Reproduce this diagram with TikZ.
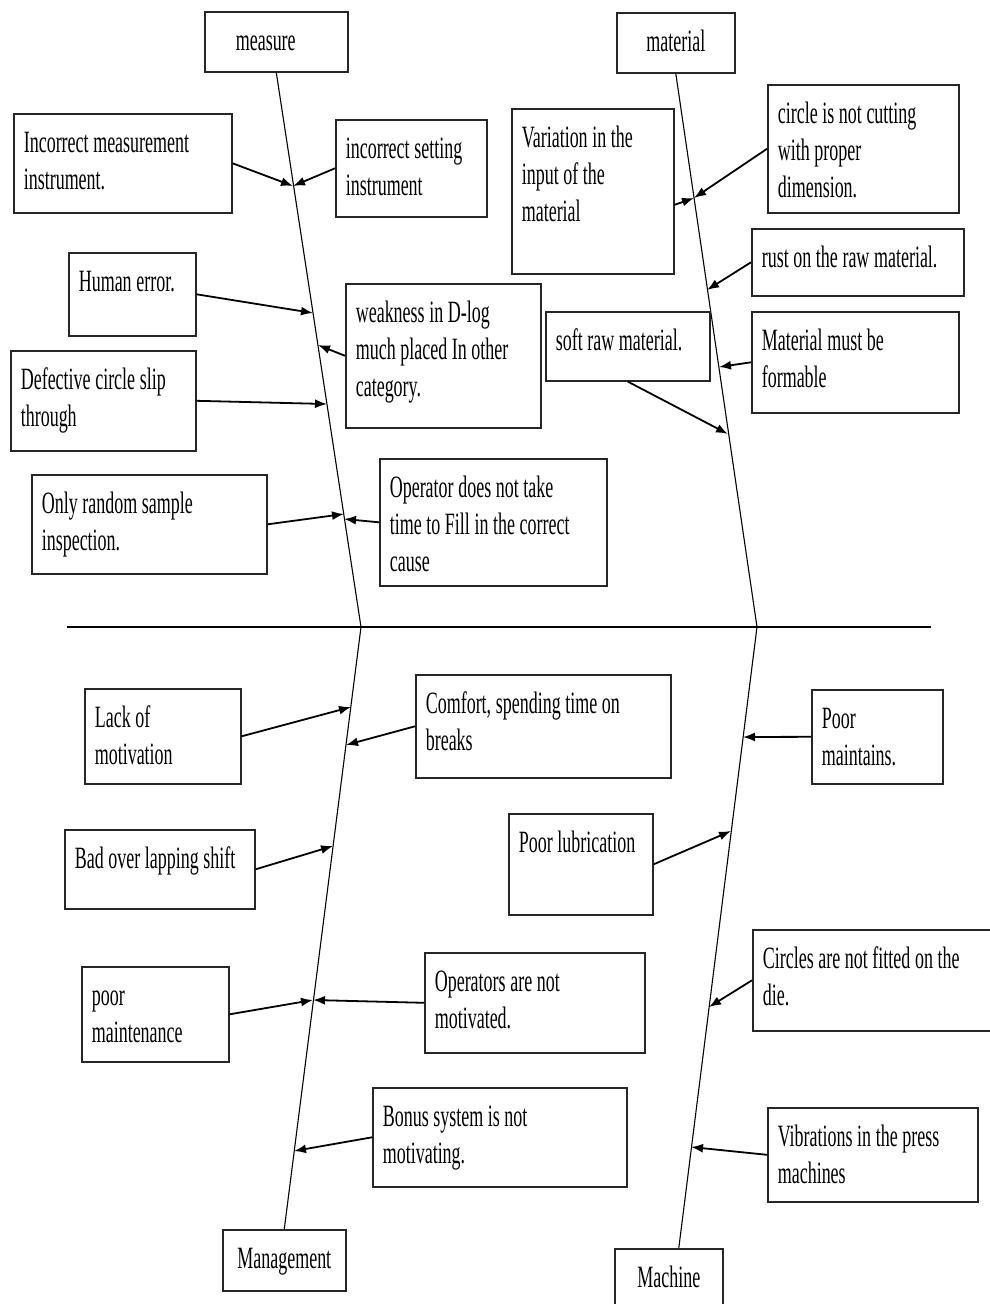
\documentclass[tikz,border=0pt]{standalone}
\usepackage{fontspec}
\setmainfont{Liberation Serif}[FakeStretch=0.58]
\usetikzlibrary{arrows.meta}
\hyphenpenalty=10000

\begin{document}
\begin{tikzpicture}[x=1pt,y=-1pt,
  cause/.style 2 args={draw=black!85, line width=1.6pt, anchor=north west, align=left,
    inner xsep=10pt, inner ysep=0pt, text height=39pt, text width=#1, text depth=#2,
    font=\fontsize{31}{37}\selectfont,
    execute at begin node={\spaceskip=4.6pt plus 2pt minus 1pt\relax}},
  bone/.style={line width=1.1pt},
  hit/.style={line width=1.8pt, -{Latex[length=12pt,width=9pt]}}]
\useasboundingbox (0,0) rectangle (989,1304);

\node[cause={81pt}{21pt}, inner xsep=31pt] (measure) at (204,11) {measure};
\node[cause={98pt}{21pt}, align=center] (material) at (616,12) {material};
\node[cause={103pt}{22pt}, align=center] (mgmt) at (222,1229) {Management};
\node[cause={88pt}{21pt}, align=center] (machine) at (614,1248) {Machine};

\coordinate (hubL) at (361,627);
\coordinate (hubR) at (757,627);
\coordinate (hl) at (67,627);
\coordinate (hr) at (931,627);
\draw[bone] (hl) -- (hr);
\draw[bone] (measure.south) -- (hubL) -- (mgmt.north);
\draw[bone] (material.south) -- (hubR) -- ([xshift=10pt]machine.north);

\node[cause={198pt}{60pt}] (inmeas) at (13,113) {Incorrect measurement\\instrument.};
\node[cause={131pt}{58pt}] (inset) at (335,119) {incorrect setting\\instrument};
\node[cause={107pt}{44pt}] (human) at (68,252) {Human error.};
\node[cause={175pt}{105pt}] (weak) at (345,283) {weakness in D-log\\much placed In other\\category.};
\node[cause={165pt}{61pt}] (defect) at (10,350) {Defective circle slip\\through};
\node[cause={215pt}{60pt}] (random) at (31,474) {Only random sample\\inspection.};
\node[cause={207pt}{88pt}] (operator) at (379,458) {Operator does not take\\time to Fill in the correct\\cause};

\node[cause={142pt}{126pt}] (variation) at (511,108) {Variation in the\\input of the\\material};
\node[cause={171pt}{89pt}] (circle) at (767,84) {circle is not cutting\\with proper\\dimension.};
\node[cause={192pt}{28pt}] (rust) at (751,228) {rust on the raw material.};
\node[cause={144pt}{30pt}] (soft) at (545,311) {soft raw material.};
\node[cause={187pt}{62pt}] (formable) at (751,311) {Material must be\\formable};

\node[cause={136pt}{56pt}] (lack) at (84,688) {Lack of\\motivation};
\node[cause={235pt}{64pt}] (comfort) at (415,674) {Comfort, spending time on\\breaks};
\node[cause={170pt}{40pt}] (shift) at (64,829) {Bad over lapping shift};
\node[cause={124pt}{62pt}] (lub) at (508,813) {Poor lubrication};
\node[cause={127pt}{56pt}] (maint) at (81,966) {poor\\maintenance};
\node[cause={200pt}{61pt}] (opnot) at (424,952) {Operators are not\\motivated.};
\node[cause={234pt}{60pt}] (bonus) at (372,1087) {Bonus system is not\\motivating.};

\node[cause={111pt}{55pt}] (maintains) at (811,689) {Poor\\maintains.};
\node[cause={225pt}{62pt}] (fitted) at (752,929) {Circles are not fitted on the\\die.};
\node[cause={190pt}{55pt}] (vib) at (767,1107) {Vibrations in the press\\machines};

\coordinate (t1) at (293,186);
\coordinate (t3) at (313,313);
\coordinate (t4) at (318,345);
\coordinate (t5) at (327,404);
\coordinate (t6) at (344,514);
\coordinate (t7) at (344,519);
\coordinate (t8) at (694,198);
\coordinate (t10) at (707,290);
\coordinate (t12) at (719,367);
\coordinate (t11) at (728,434);
\coordinate (t13) at (351,707);
\coordinate (t14) at (346,745);
\coordinate (t15) at (333,846);
\coordinate (t17) at (313,1000);
\coordinate (t19) at (294,1151);
\coordinate (t20) at (743,737);
\coordinate (t16) at (731,831);
\coordinate (t21) at (709,1007);
\coordinate (t22) at (691,1147);

\draw[hit] (inmeas.east) -- (t1);
\draw[hit] (inset.west) -- (t1);
\draw[hit] (human.east) -- (t3);
\draw[hit] (weak.west) -- (t4);
\draw[hit] (defect.east) -- (t5);
\draw[hit] (random.east) -- (t6);
\draw[hit] (operator.west) -- (t7);
\draw[hit] ([yshift=-13.5pt]variation.east) -- (t8);
\draw[hit] (circle.west) -- (t8);
\draw[hit] (rust.west) -- (t10);
\draw[hit] (soft.south) -- (t11);
\draw[hit] (formable.west) -- (t12);
\draw[hit] (lack.east) -- (t13);
\draw[hit] (comfort.west) -- (t14);
\draw[hit] (shift.east) -- (t15);
\draw[hit] (lub.east) -- (t16);
\draw[hit] (maint.east) -- (t17);
\draw[hit] (opnot.west) -- (t17);
\draw[hit] (bonus.west) -- (t19);
\draw[hit] (maintains.west) -- (t20);
\draw[hit] (fitted.west) -- (t21);
\draw[hit] (vib.west) -- (t22);
\end{tikzpicture}
\end{document}
